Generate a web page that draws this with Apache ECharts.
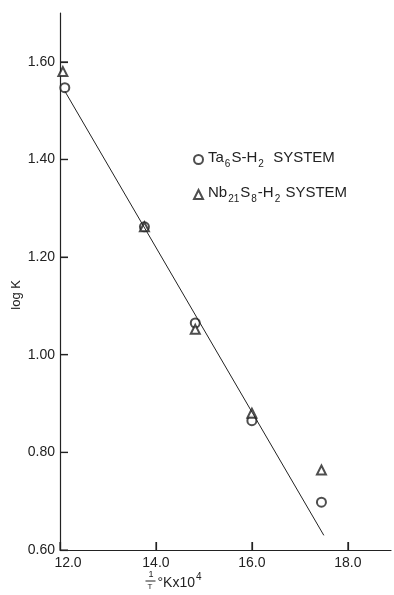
<!DOCTYPE html>
<html>
<head>
    <meta charset="utf-8">
    <title>log K vs 1/T</title>
    <script src="https://cdn.jsdelivr.net/npm/echarts@6/dist/echarts.min.js"></script>
    <style>
        html, body { margin: 0; padding: 0; background: #fff; }
    </style>
</head>
<body>
    <div id="main" style="width: 394px;height:595px;"></div>
    <script type="text/javascript">
        // values
        var invT = [12.1, 13.76, 14.82, 16.0, 17.45];          // 1/T x 10^4
        var invTNb = [12.06, 13.76, 14.82, 16.0, 17.45];
        var logK_Ta6S = [1.547, 1.262, 1.065, 0.865, 0.698];
        var logK_Nb21S8 = [1.58, 1.262, 1.052, 0.88, 0.764];
        var fitX = [12.1, 17.5];
        var fitY = [1.54, 0.63];
        var xTicks = [12, 14, 16, 18];
        var yTicks = [0.6, 0.8, 1.0, 1.2, 1.4, 1.6];

        function pairs(xs, ys) {
            return xs.map(function (x, i) { return [x, ys[i]]; });
        }

        var ink = '#222';
        var font = 'Liberation Sans';

        var chartDom = document.getElementById('main');
        var myChart = echarts.init(chartDom);

        var sub = { fontSize: 10, fontFamily: font, color: ink, verticalAlign: 'bottom', padding: [0, 1, 0, 1] };
        var txt = { fontSize: 15, fontFamily: font, color: ink, verticalAlign: 'bottom', padding: [0, 0, 4, 0] };

        // short tick marks pointing into the plot, as thin rect symbols
        function tickMarks(pts, size, offset) {
            return {
                type: 'scatter',
                silent: true,
                clip: false,
                symbol: 'rect',
                symbolSize: size,
                symbolOffset: offset,
                data: pts,
                itemStyle: { color: ink },
                z: 3
            };
        }

        var option = {
            animation: false,
            grid: { left: 60, right: 3, top: 13, bottom: 45 },
            xAxis: {
                type: 'value',
                min: 12, max: 18.9, interval: 2,
                axisLine: { show: true, lineStyle: { color: ink, width: 1.2 } },
                axisTick: { show: true, inside: false, length: -8, lineStyle: { color: ink, width: 1.2 } },
                splitLine: { show: false },
                axisLabel: {
                    showMaxLabel: false,
                    margin: 6,
                    fontSize: 14, fontFamily: font, color: ink,
                    formatter: function (v) {
                        if (xTicks.indexOf(v) < 0) return '';
                        if (v === 12) return '{f|' + v.toFixed(1) + '}';
                        return v.toFixed(1);
                    },
                    rich: { f: { fontSize: 14, fontFamily: font, color: ink, padding: [0, 0, 0, 16] } }
                }
            },
            yAxis: {
                type: 'value',
                min: 0.6, max: 1.7, interval: 0.2,
                axisLine: { show: true, lineStyle: { color: ink, width: 1.2 } },
                axisTick: { show: true, inside: false, length: -8, lineStyle: { color: ink, width: 1.2 } },
                splitLine: { show: false },
                axisLabel: {
                    showMaxLabel: false,
                    margin: 5,
                    fontSize: 14, fontFamily: font, color: ink,
                    formatter: function (v) {
                        var r = Math.round(v * 100) / 100;
                        return yTicks.indexOf(r) < 0 ? '' : r.toFixed(2);
                    }
                }
            },
            legend: {
                orient: 'vertical',
                left: 188, top: 145,
                itemWidth: 9, itemHeight: 9,
                itemGap: 16,
                data: ['Ta6S', 'Nb21S8'],
                formatter: function (name) {
                    if (name === 'Ta6S') {
                        return '{t|Ta}{s|6}{t|S-H}{s|2}{t|  SYSTEM}';
                    }
                    return '{t|Nb}{s|21}{t|S}{s|8}{t|-H}{s|2}{t| SYSTEM}';
                },
                textStyle: { fontSize: 15, fontFamily: font, color: ink, rich: { t: txt, s: sub } }
            },
            graphic: [
                {
                    type: 'text', left: 10, top: 280, rotation: Math.PI / 2,
                    style: { text: 'log K', fontSize: 13, fontFamily: font, fill: ink }
                },
                {
                    type: 'group', left: 143, top: 570,
                    children: [
                        { type: 'text', x: 3, y: 0, style: { text: '1', fontSize: 9, fontFamily: font, fill: ink } },
                        { type: 'line', shape: { x1: 0, y1: 11, x2: 10, y2: 11 }, style: { stroke: ink, lineWidth: 1 } },
                        { type: 'text', x: 2, y: 13, style: { text: 'T', fontSize: 8, fontFamily: font, fill: ink } },
                        {
                            type: 'text', x: 12, y: 2,
                            style: {
                                text: '{a|°Kx10}{b|4}',
                                rich: {
                                    a: { fontSize: 14, fontFamily: font, fill: ink, verticalAlign: 'bottom' },
                                    b: { fontSize: 10, fontFamily: font, fill: ink, verticalAlign: 'bottom', padding: [0, 0, 8, 1] }
                                }
                            }
                        }
                    ]
                }
            ],
            series: [
                tickMarks(xTicks.map(function (v) { return [v, 0.6]; }), [1.3, 8], [0, -4]),
                tickMarks(yTicks.map(function (v) { return [12, v]; }), [8, 1.3], [4, 0]),
                {
                    name: 'fit',
                    type: 'line',
                    data: pairs(fitX, fitY),
                    showSymbol: false,
                    lineStyle: { color: ink, width: 1 },
                    silent: true
                },
                {
                    name: 'Ta6S',
                    type: 'scatter',
                    symbol: 'emptyCircle',
                    symbolSize: 9,
                    data: pairs(invT, logK_Ta6S),
                    itemStyle: { color: ink, borderColor: ink, borderWidth: 1.2 }
                },
                {
                    name: 'Nb21S8',
                    type: 'scatter',
                    symbol: 'emptyTriangle',
                    symbolSize: 9,
                    data: pairs(invTNb, logK_Nb21S8),
                    itemStyle: { color: ink, borderColor: ink, borderWidth: 1.2 }
                }
            ]
        };

        option && myChart.setOption(option);
    </script>
</body>
</html>
